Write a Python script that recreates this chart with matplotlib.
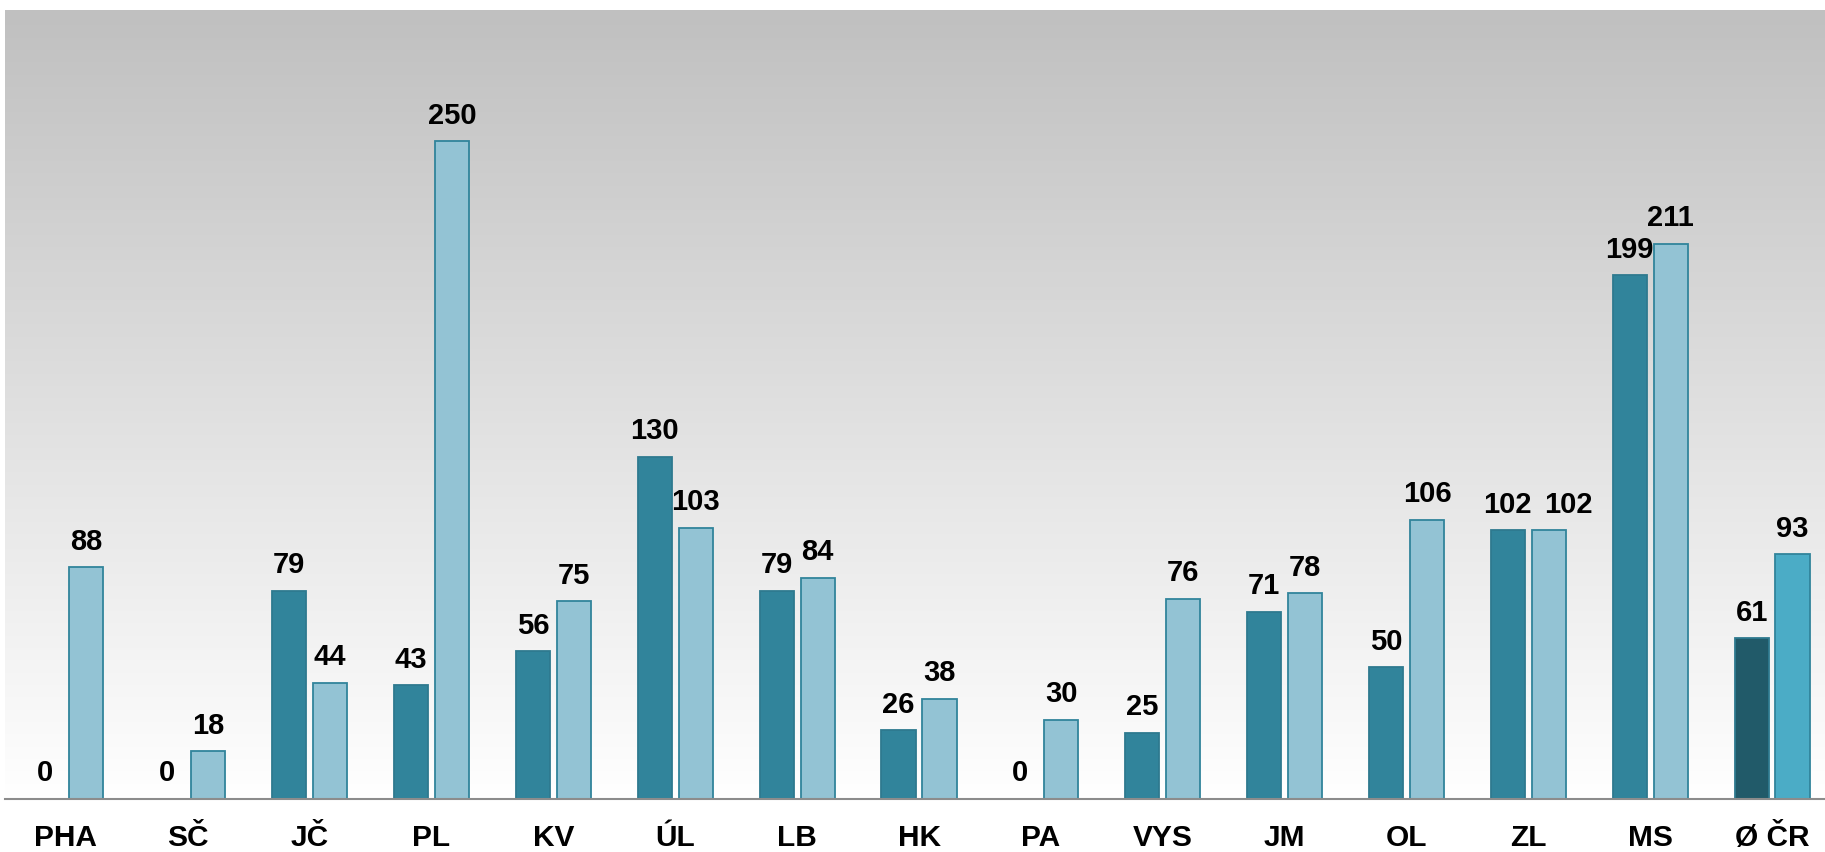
import numpy as np
import matplotlib.pyplot as plt
from matplotlib.colors import LinearSegmentedColormap

# Kraje a hodnoty dvou řad
kraje = ['PHA', 'SČ', 'JČ', 'PL', 'KV', 'ÚL', 'LB', 'HK', 'PA', 'VYS', 'JM', 'OL', 'ZL', 'MS', 'Ø ČR']
rada1 = [0, 0, 79, 43, 56, 130, 79, 26, 0, 25, 71, 50, 102, 199, 61]
rada2 = [88, 18, 44, 250, 75, 103, 84, 38, 30, 76, 78, 106, 102, 211, 93]

barva1 = ['#31849b'] * 14 + ['#215a69']
barva2 = ['#93c3d4'] * 14 + ['#4bacc6']

plt.rcParams['font.family'] = ['Liberation Sans', 'DejaVu Sans']

fig = plt.figure(figsize=(18.25, 8.53), dpi=100)
# osa je o kousek širší než obrázek, pravý okraj se ořízne
ax = fig.add_axes([5 / 1825, 53.5 / 853, 1828 / 1825, 788.5 / 853])

# pozadí s přechodem šedá -> bílá
grad = np.linspace(0, 1, 256).reshape(-1, 1)
ax.imshow(grad, cmap=LinearSegmentedColormap.from_list('bg', ['#c0c0c0', '#ffffff']),
          aspect='auto', extent=[0, 1, 0, 1], transform=ax.transAxes, zorder=0)

x = np.arange(len(kraje))
w = 0.28
off = 0.168
b1 = ax.bar(x - off, rada1, w, color=barva1, edgecolor='#2e7a8f', linewidth=1.3, zorder=2)
b2 = ax.bar(x + off, rada2, w, color=barva2, edgecolor='#31849b', linewidth=1.3, zorder=2)

# popisky hodnot (u ZL je pravý popisek posunutý, aby se nepřekrýval)
posun = {('r2', 'ZL'): 14}
for jm, bars, vals in (('r1', b1, rada1), ('r2', b2, rada2)):
    for k, b, v in zip(kraje, bars, vals):
        dx = posun.get((jm, k), 0)
        ax.annotate(str(v), (b.get_x() + b.get_width() / 2, v), xytext=(dx, 9),
                    textcoords='offset points', ha='center', va='bottom',
                    fontsize=21, fontweight='bold', color='black', zorder=3)

ax.set_xlim(-0.5, len(kraje) - 0.5)
ax.set_ylim(0, 300)
ax.set_xticks(x)
ax.set_xticklabels(kraje, fontsize=21.5, fontweight='bold')
ax.tick_params(axis='x', length=0, pad=18)
ax.set_yticks([])
for s in ['top', 'left', 'right']:
    ax.spines[s].set_visible(False)
ax.spines['bottom'].set_color('#8c8c8c')
ax.spines['bottom'].set_linewidth(1.5)
ax.spines['bottom'].set_zorder(4)

fig.savefig('out.png', dpi=100)
